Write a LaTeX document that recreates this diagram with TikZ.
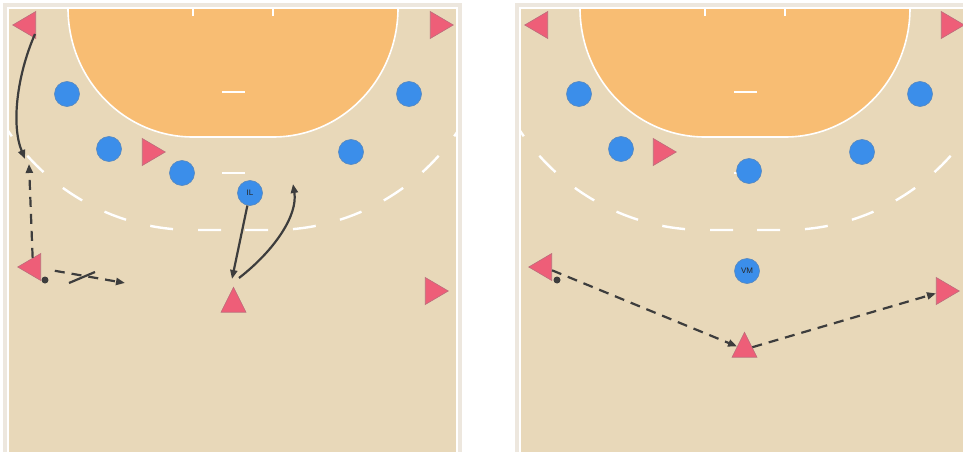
\documentclass[tikz,border=0pt]{standalone}
\usepackage{fontspec}
\setmainfont{Liberation Sans}
\usepackage{tikz}
\usetikzlibrary{shapes.geometric, arrows.meta}
\definecolor{courtbeige}{HTML}{E8D8B9}
\definecolor{courtframe}{HTML}{EDE7DE}
\definecolor{goalorange}{HTML}{F8BD73}
\definecolor{defblue}{HTML}{3B8EEA}
\definecolor{attred}{HTML}{EE5E78}
\definecolor{arrowgray}{HTML}{3D3D3D}

\tikzset{
  defender/.style={circle, draw=defblue!60!gray, line width=0.6pt, fill=defblue,
    minimum size=25pt, inner sep=0pt, text=black!85, font=\fontsize{8}{8}\selectfont},
  attacker/.style={isosceles triangle, isosceles triangle stretches, draw=attred!55!gray,
    line width=0.6pt, fill=attred, minimum width=27pt, minimum height=23pt, inner sep=0pt,
    shape border rotate=#1},
  attacker/.default=0,
  upright/.style={attacker=90, minimum width=25pt, minimum height=25pt},
  ball/.style={circle, fill=arrowgray, minimum size=7pt, inner sep=0pt},
  run/.style={-{Triangle[length=9pt,width=7pt]}, line width=2.2pt, arrowgray},
  pass/.style={run, dash pattern=on 10pt off 7pt},
  courtline/.style={white, line width=1.6pt}
}

\begin{document}
\begin{tikzpicture}[x=1pt, y=-1pt]
        \clip (0,0) rectangle (963,452);
        \fill[white] (0,0) rectangle (963,452);

        % Courts
        \foreach \ox in {0,512} {
          \begin{scope}[shift={(\ox,0)}]
            \fill[courtframe] (3,3) rectangle (462,460);
            \fill[courtbeige] (8,8) rectangle (457,460);
            \begin{scope}
              \clip (8,8) rectangle (457,460);
              \draw[courtline, fill=goalorange] (68,8)
                arc[start angle=180, end angle=270, x radius=125pt, y radius=129pt]
                -- (273,137)
                arc[start angle=270, end angle=360, x radius=125pt, y radius=129pt];
              \draw[courtline, line width=2.4pt, dash pattern=on 23pt off 25pt, dash phase=36pt]
                (233,230) -- (193,230) arc[start angle=270, end angle=180, radius=222pt];
              \draw[courtline, line width=2.4pt, dash pattern=on 23pt off 25pt, dash phase=36pt]
                (233,230) -- (273,230) arc[start angle=270, end angle=360, radius=222pt];
              \draw[courtline] (222,92) -- (245,92);
              \draw[courtline] (222,173) -- (245,173);
              \draw[courtline] (193,8) -- (193,16);
              \draw[courtline] (273,8) -- (273,16);
            \end{scope}
            \draw[courtline] (8,8) rectangle (457,460);
          \end{scope}
        }

        % Nodes (left)
        \node[defender] (lwd) at (67,94) {};
        \node[defender] (lbd) at (109,149) {};
        \node[defender] (cbd) at (182,173) {};
        \node[defender] (il) at (250,193) {IL};
        \node[defender] (rbd) at (351,152) {};
        \node[defender] (rwd) at (409,94) {};
        \node[attacker=180] (lwa) at (28,25) {};
        \node[attacker] (rwa) at (438,25) {};
        \node[attacker] (pivot) at (150,152) {};
        \node[attacker=180] (lba) at (33,267) {};
        \node[upright] (cba) at (233.5,304.5) {};
        \node[attacker] (rba) at (433,291) {};
        \node[ball] (ball) at (45,280) {};

        % Nodes (right)
        \node[defender] (lwd2) at (579,94) {};
        \node[defender] (lbd2) at (621,149) {};
        \node[defender] (cbd2) at (749,171) {};
        \node[defender] (rbd2) at (862,152) {};
        \node[defender] (rwd2) at (920,94) {};
        \node[defender] (vm) at (747,271) {VM};
        \node[attacker=180] (lwa2) at (540,25) {};
        \node[attacker] (rwa2) at (949,25) {};
        \node[attacker] (pivot2) at (661,152) {};
        \node[attacker=180] (lba2) at (544,267) {};
        \node[upright] (cba2) at (744.5,349.5) {};
        \node[attacker] (rba2) at (944,291) {};
        \node[ball] (ball2) at (557,280) {};

        % Arrows (left)
        \coordinate (lwstart) at (35,34);
        \coordinate (lwend) at (25,159);
        \coordinate (lbup) at (29,164);
        \coordinate (lbpass) at (125,283);
        \coordinate (ilend) at (232,279);
        \coordinate (cbstart) at (239,278);
        \coordinate (cbend) at (293,184);
        \draw[run] (lwstart) .. controls (17,75) and (11,125) .. (lwend);
        \draw[pass] (lba) -- (lbup);
        \draw[pass, shorten <=14pt] (lba) -- (lbpass);
        \draw[arrowgray, line width=2.2pt] (69,283) -- (95,272);
        \draw[run] (il) -- (ilend);
        \draw[run] (cbstart) .. controls (275,250) and (298,215) .. (cbend);

        % Arrows (right)
        \draw[pass] (lba2) -- (cba2);
        \draw[pass] (cba2) -- (rba2);
\end{tikzpicture}
\end{document}
